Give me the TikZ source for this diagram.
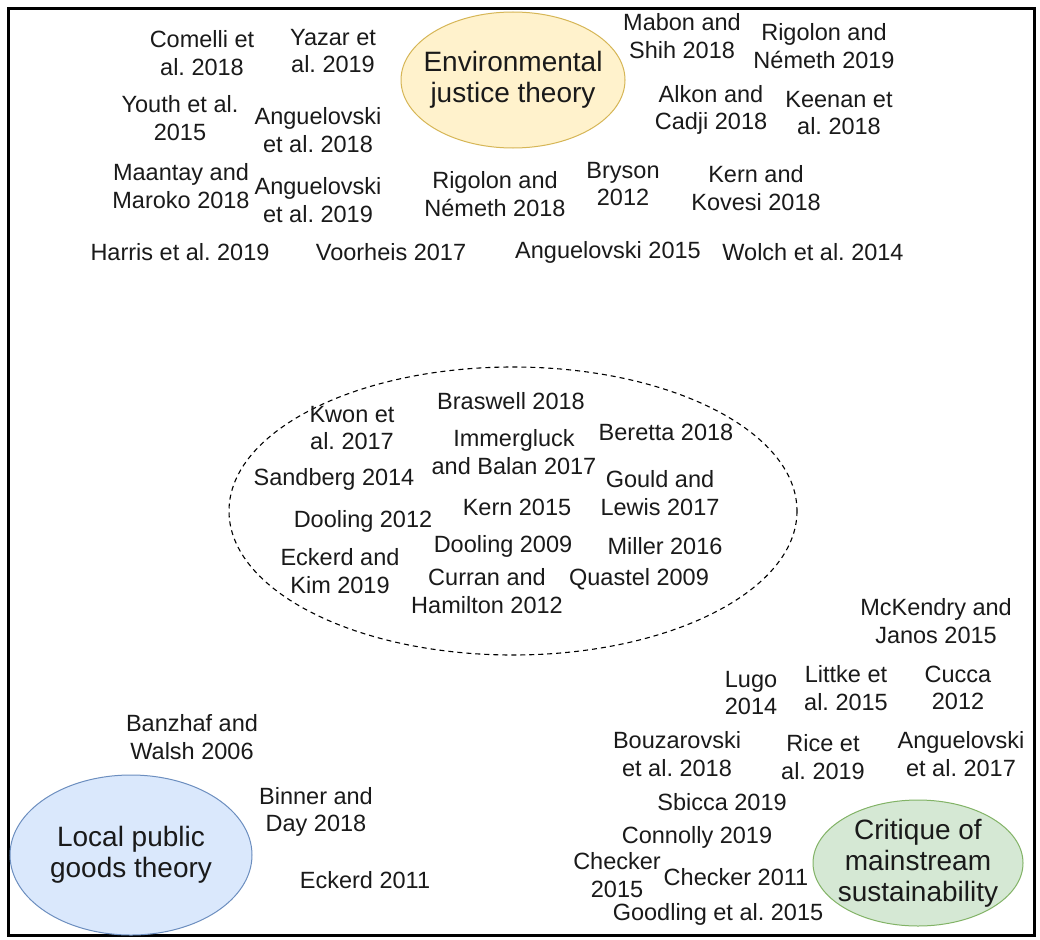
\documentclass[tikz,border=0pt]{standalone}
\usepackage{fontspec}
\setmainfont{Liberation Sans}
\frenchspacing
\usetikzlibrary{shapes.geometric}
\definecolor{ejfill}{HTML}{FFF2CC}
\definecolor{ejline}{HTML}{D6B656}
\definecolor{lpfill}{HTML}{DAE8FC}
\definecolor{lpline}{HTML}{6C8EBF}
\definecolor{crfill}{HTML}{D5E8D4}
\definecolor{crline}{HTML}{82B366}
\definecolor{txt}{HTML}{1A1A1A}
\tikzset{
  ref/.style={align=center, inner sep=0pt, text=txt, font=\fontsize{23.5}{27.5}\selectfont},
  theorytext/.style={align=center, inner sep=0pt, text=txt, font=\fontsize{28}{31}\selectfont},
  theoryshape/.style={line width=1pt},
}
\begin{document}
\begin{tikzpicture}[x=1pt,y=-1pt]
\useasboundingbox (0,0) rectangle (1040,939);
\fill[white] (0,0) rectangle (1040,939);
\draw[line width=3pt, black] (8,9) rectangle (1034,935);

% theory ellipses
\coordinate (ejc) at (513,80);
\coordinate (lpc) at (131,855);
\coordinate (crc) at (918,863);
\filldraw[theoryshape, fill=ejfill, draw=ejline] (ejc) ellipse [x radius=112, y radius=68];
\filldraw[theoryshape, fill=lpfill, draw=lpline] (lpc) ellipse [x radius=121, y radius=80];
\filldraw[theoryshape, fill=crfill, draw=crline] (crc) ellipse [x radius=105, y radius=63];
\node[theorytext] (ej) at (ejc) {Environmental\\justice theory};
\node[theorytext] (lp) at (lpc) {Local public\\goods theory};
\node[theorytext] (cr) at (crc) {Critique of\\mainstream\\sustainability};

% dashed cluster
\coordinate (clc) at (513,511);
\draw[line width=1.1pt, dash pattern=on 5pt off 4pt] (clc) ellipse [x radius=284, y radius=144];

% top references
\node[ref] (r1) at (202,53) {Comelli et\\al. 2018};
\node[ref] (r2) at (333,51) {Yazar et\\al. 2019};
\node[ref] (r3) at (682,36) {Mabon and\\Shih 2018};
\node[ref] (r4) at (824,46) {Rigolon and\\Németh 2019};
\node[ref] (r5) at (180,118) {Youth et al.\\2015};
\node[ref] (r6) at (318,130) {Anguelovski\\et al. 2018};
\node[ref] (r7) at (711,110) {Alkon and\\Cadji 2018};
\node[ref] (r8) at (839,113) {Keenan et\\al. 2018};
\node[ref] (r9) at (181,186) {Maantay and\\Maroko 2018};
\node[ref] (r10) at (318,200) {Anguelovski\\et al. 2019};
\node[ref] (r11) at (495,194) {Rigolon and\\Németh 2018};
\node[ref] (r12) at (623,184) {Bryson\\2012};
\node[ref] (r13) at (756,188) {Kern and\\Kovesi 2018};
\node[ref] (r14) at (180,252) {Harris et al. 2019};
\node[ref] (r15) at (391,252) {Voorheis 2017};
\node[ref] (r16) at (608,252) {Anguelovski 2015};
\node[ref] (r17) at (813,252) {Wolch et al. 2014};

% cluster references
\node[ref] (c1) at (352,428) {Kwon et\\al. 2017};
\node[ref] (c2) at (511,401) {Braswell 2018};
\node[ref] (c3) at (514,452) {Immergluck\\and Balan 2017};
\node[ref] (c4) at (666,432) {Beretta 2018};
\node[ref] (c5) at (334,479) {Sandberg 2014};
\node[ref] (c6) at (660,493) {Gould and\\Lewis 2017};
\node[ref] (c7) at (517,507) {Kern 2015};
\node[ref] (c8) at (363,521) {Dooling 2012};
\node[ref] (c9) at (503,546) {Dooling 2009};
\node[ref] (c10) at (665,546) {Miller 2016};
\node[ref] (c11) at (340,571) {Eckerd and\\Kim 2019};
\node[ref] (c12) at (487,591) {Curran and\\Hamilton 2012};
\node[ref] (c13) at (639,579) {Quastel 2009};

% bottom right references
\node[ref] (b1) at (936,621) {McKendry and\\Janos 2015};
\node[ref] (b2) at (751,693) {Lugo\\2014};
\node[ref] (b3) at (846,688) {Littke et\\al. 2015};
\node[ref] (b4) at (958,688) {Cucca\\2012};
\node[ref] (b5) at (677,754) {Bouzarovski\\et al. 2018};
\node[ref] (b6) at (823,757) {Rice et\\al. 2019};
\node[ref] (b7) at (961,754) {Anguelovski\\et al. 2017};
\node[ref] (b8) at (722,802) {Sbicca 2019};
\node[ref] (b9) at (697,837) {Connolly 2019};
\node[ref] (b10) at (617,875) {Checker\\2015};
\node[ref] (b11) at (736,877) {Checker 2011};
\node[ref] (b12) at (718,914) {Goodling et al. 2015};

% bottom left references
\node[ref] (l1) at (192,737) {Banzhaf and\\Walsh 2006};
\node[ref] (l2) at (316,812) {Binner and\\Day 2018};
\node[ref] (l3) at (365,880) {Eckerd 2011};
\end{tikzpicture}
\end{document}
